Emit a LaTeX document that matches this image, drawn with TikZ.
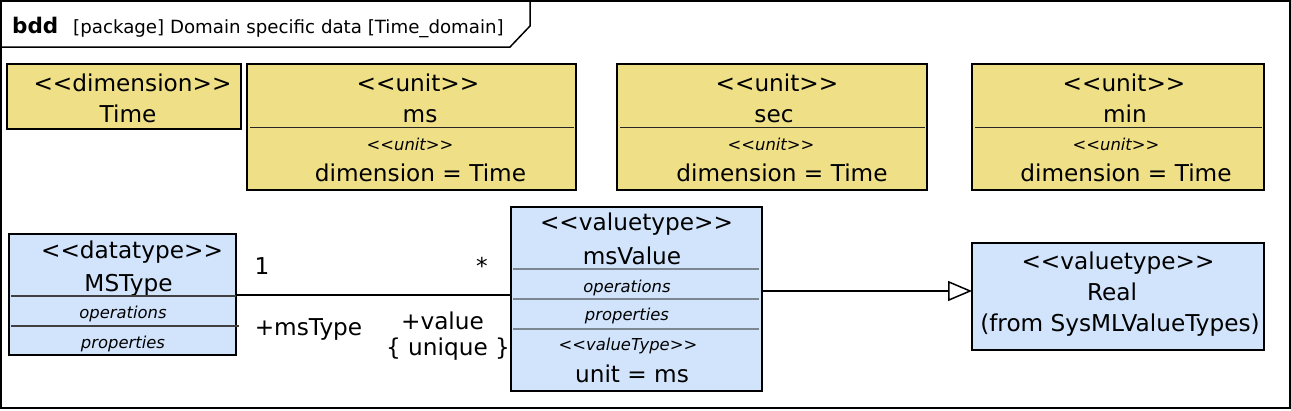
\documentclass[tikz,border=0pt]{standalone}
\usepackage{fontspec}
\setmainfont{DejaVu Sans}
\usetikzlibrary{arrows.meta,calc}
\definecolor{yfill}{RGB}{239,224,135}
\definecolor{bfill}{RGB}{209,228,252}
\definecolor{sepgrey}{RGB}{125,135,145}
\newcommand\mainfnt{\fontsize{23.2}{28}\selectfont}
\newcommand\smallfnt{\fontsize{16.4}{19}\selectfont\itshape}
\newcommand\headfnt{\fontsize{18.2}{22}\selectfont}
\newcommand\boldfnt{\fontsize{21.5}{26}\selectfont\bfseries}
\newcommand\ltlt{<\kern0pt<}
\newcommand\gtgt{>\kern0pt>}
\tikzset{
  outer/.style={draw=black, line width=1.5pt},
  ybox/.style={draw=black, line width=1.6pt, fill=yfill, rectangle, anchor=north west, inner sep=0pt, outer sep=0pt},
  bbox/.style={draw=black, line width=1.6pt, fill=bfill, rectangle, anchor=north west, inner sep=0pt, outer sep=0pt},
  lbl/.style={anchor=base, inner sep=0pt, font=\mainfnt},
  sml/.style={anchor=base, inner sep=0pt, font=\smallfnt},
  sepy/.style={draw=black!85, line width=1pt},
  sepd/.style={draw=black!75, line width=1.2pt},
  sepb/.style={draw=sepgrey, line width=1.5pt},
  conn/.style={draw=black, line width=1.5pt},
}
\begin{document}
\begin{tikzpicture}[x=1pt,y=-1pt]
\useasboundingbox (0,0) rectangle (1291,410);
% frame
\draw[outer] (1,1) rectangle (1290,408);
\draw[outer] (1,47) -- (510,47) -- (530,26) -- (530,1);
\node[anchor=base west, inner sep=0pt, font=\boldfnt] (bdd) at (12,33) {bdd};
\node[anchor=base west, inner sep=0pt, font=\headfnt] (hdr) at (73,33) {[package] Domain specific data [Time\_domain]};

% top row
\node[ybox, minimum width=234pt, minimum height=65pt] (time) at (7,64) {};
\node[lbl] (timeS) at (132.5,91) {\ltlt dimension\gtgt};
\node[lbl] (timeN) at (128,122) {Time};

\node[ybox, minimum width=329pt, minimum height=126pt] (ms) at (247,64) {};
\node[lbl] (msS) at (418,91) {\ltlt unit\gtgt};
\node[lbl] (msN) at (420,122) {ms};
\draw[sepy] ($(ms.north west)+(3,63.5)$) -- ($(ms.north east)+(-2,63.5)$);
\node[sml] (msK) at (410,150) {\ltlt unit\gtgt};
\node[lbl] (msD) at (420.5,181) {dimension = Time};

\node[ybox, minimum width=310pt, minimum height=126pt] (sec) at (617,64) {};
\node[lbl] (secS) at (777,91) {\ltlt unit\gtgt};
\node[lbl] (secN) at (774,122) {sec};
\draw[sepy] ($(sec.north west)+(3,63.5)$) -- ($(sec.north east)+(-2,63.5)$);
\node[sml] (secK) at (771,150) {\ltlt unit\gtgt};
\node[lbl] (secD) at (782,181) {dimension = Time};

\node[ybox, minimum width=292pt, minimum height=126pt] (min) at (972,64) {};
\node[lbl] (minS) at (1124,91) {\ltlt unit\gtgt};
\node[lbl] (minN) at (1125,122) {min};
\draw[sepy] ($(min.north west)+(3,63.5)$) -- ($(min.north east)+(-2,63.5)$);
\node[sml] (minK) at (1116,150) {\ltlt unit\gtgt};
\node[lbl] (minD) at (1126,181) {dimension = Time};

% MSType
\node[bbox, minimum width=227pt, minimum height=121pt] (mstype) at (9,234) {};
\node[lbl] (mstS) at (132,258.5) {\ltlt datatype\gtgt};
\node[lbl] (mstN) at (128.5,291) {MSType};
\draw[sepd] ($(mstype.north west)+(2,62)$) -- ($(mstype.north east)+(0,62)$);
\node[sml] (mstO) at (123,318) {operations};
\draw[sepd] ($(mstype.north west)+(2,92)$) -- ($(mstype.north east)+(3,92)$);
\node[sml] (mstP) at (123,348) {properties};

% msValue
\node[bbox, minimum width=251pt, minimum height=184pt] (msvalue) at (511,207) {};
\node[lbl] (mvS) at (636.5,230) {\ltlt valuetype\gtgt};
\node[lbl] (mvN) at (632,264) {msValue};
\draw[sepb] ($(msvalue.north west)+(2,62)$) -- ($(msvalue.north east)+(-3,62)$);
\node[sml] (mvO) at (627,292) {operations};
\draw[sepb] ($(msvalue.north west)+(2,92)$) -- ($(msvalue.north east)+(-3,92)$);
\node[sml] (mvP) at (627,320.7) {properties};
\draw[sepb] ($(msvalue.north west)+(2,122)$) -- ($(msvalue.north east)+(-3,122)$);
\node[sml] (mvK) at (628,350.7) {\ltlt valueType\gtgt};
\node[lbl] (mvU) at (632,382.7) {unit = ms};

% Real
\node[bbox, minimum width=292pt, minimum height=107pt] (real) at (972,243) {};
\node[lbl] (rS) at (1118,269) {\ltlt valuetype\gtgt};
\node[lbl] (rN) at (1112,300.5) {Real};
\node[lbl] (rF) at (1120,331.5) {(from SysMLValueTypes)};

% association
\draw[conn] ($(mstype.north east)+(0,61)$) -- ($(msvalue.north west)+(0,88)$);
\node[lbl] (m1) at (262,274) {1};
\node[lbl] (m2) at (482,274) {*};
\node[lbl] (r1) at (308.5,335) {+msType};
\node[lbl] (r2) at (442.5,329) {+value};
\node[lbl] (r3) at (448,355) {\{ unique \}};

% generalization
\draw[conn, -{Triangle[open, length=24pt, width=20pt, fill=white]}] ($(msvalue.north east)+(0,84)$) -- ($(real.north west)+(0,48)$);
\end{tikzpicture}
\end{document}
